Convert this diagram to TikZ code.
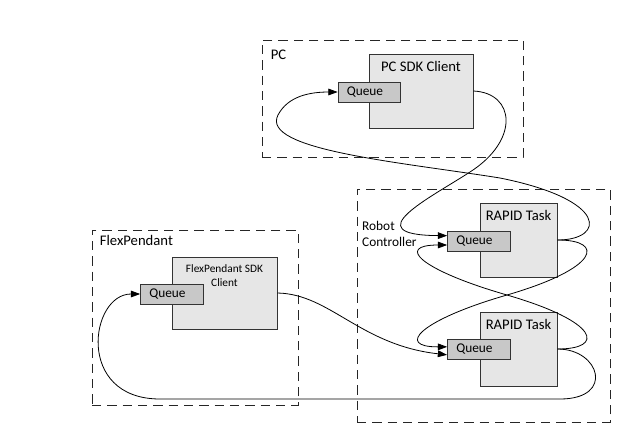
\documentclass[tikz,border=0pt]{standalone}
\usepackage{fontspec}
\setmainfont{Carlito}
\usetikzlibrary{positioning,arrows.meta}
\definecolor{clientfill}{RGB}{230,230,230}
\definecolor{queuefill}{RGB}{200,200,200}

\begin{document}
\begin{tikzpicture}[x=0.75pt,y=-0.75pt,>={Triangle[length=7pt,width=5pt]},line width=0.6pt,
	group box/.style={draw=black!85,dash pattern=on 7pt off 4.5pt,line width=0.75pt,inner sep=0pt},
	group label/.style={inner sep=1pt,font=\fontsize{11}{13}\selectfont,align=left},
	client box/.style={draw=black!80,fill=clientfill,line width=0.75pt,inner sep=0pt},
	client text/.style={anchor=north,yshift=-2.5pt,font=\fontsize{11}{13}\selectfont,align=center},
	queue box/.style={draw=black!80,fill=queuefill,line width=0.75pt,minimum width=47pt,minimum height=15pt,inner xsep=6pt,inner ysep=0pt,text width=34pt,align=left,font=\fontsize{10}{12}\selectfont}]

		\useasboundingbox (0,0) rectangle (640,426);

		\node (pc) [group box, minimum width=195.75pt, minimum height=87.75pt] at (392.5,98.5) {};
		\node (rc) [group box, minimum width=189.75pt, minimum height=174.75pt] at (483.5,305.5) {};
		\node (fp) [group box, minimum width=154.5pt, minimum height=131.25pt] at (195,317.5) {};

		\node (pclabel) [group label, below right=6.5pt and 5.75pt of pc.north west] {PC};
		\node (rclabel) [group label, font=\fontsize{10}{12}\selectfont, below right=23pt and 3pt of rc.north west] {Robot\\Controller};
		\node (fplabel) [group label, below right=2.75pt and 5pt of fp.north west] {FlexPendant};

		\node (pcclient) [client box, minimum width=78pt, minimum height=55.5pt, label={[client text]north:PC SDK Client}] at (421,91) {};
		\node (task1) [client box, minimum width=57.75pt, minimum height=55.5pt, label={[client text]north:RAPID Task}] at (518.5,240) {};
		\node (task2) [client box, minimum width=57.75pt, minimum height=55.5pt, label={[client text]north:RAPID Task}] at (518.5,349) {};
		\node (fpclient) [client box, minimum width=78.75pt, minimum height=54pt, label={[client text, font=\fontsize{8.5}{10.5}\selectfont]north:{FlexPendant SDK\\Client}}] at (224.5,293) {};

		\node (pcqueue) [queue box] at (369.5,92) {Queue};
		\node (queue1) [queue box] at (479,241) {Queue};
		\node (queue2) [queue box] at (479,349.5) {Queue};
		\node (fpqueue) [queue box] at (172,294) {Queue};

		\draw[->] (pcclient.east) .. controls (515,93) and (520,140) .. (470,172) .. controls (430,198) and (355,235) .. ([yshift=4pt]queue1.west);
		\draw[->] (task1.east) .. controls (605,240) and (610,200) .. (500,178) .. controls (400,162) and (260,150) .. (278,115) .. controls (288,96) and (310,92) .. (pcqueue.west);
		\draw[->] (task1.east) .. controls (605,240) and (600,268) .. (507,295) .. controls (420,320) and (395,347) .. ([yshift=2pt]queue2.west);
		\draw[->] (task2.east) .. controls (605,349) and (600,322) .. (507,295) .. controls (420,270) and (395,245) .. ([yshift=-3pt]queue1.west);
		\draw[->] (fpclient.east) .. controls (330,294) and (360,345) .. ([yshift=-4pt]queue2.west);
		\draw[->] (task2.east) .. controls (600,349) and (615,399) .. (560,399) -- (160,399) .. controls (75,399) and (90,294) .. (fpqueue.west);

		;
	\end{tikzpicture}
\end{document}
